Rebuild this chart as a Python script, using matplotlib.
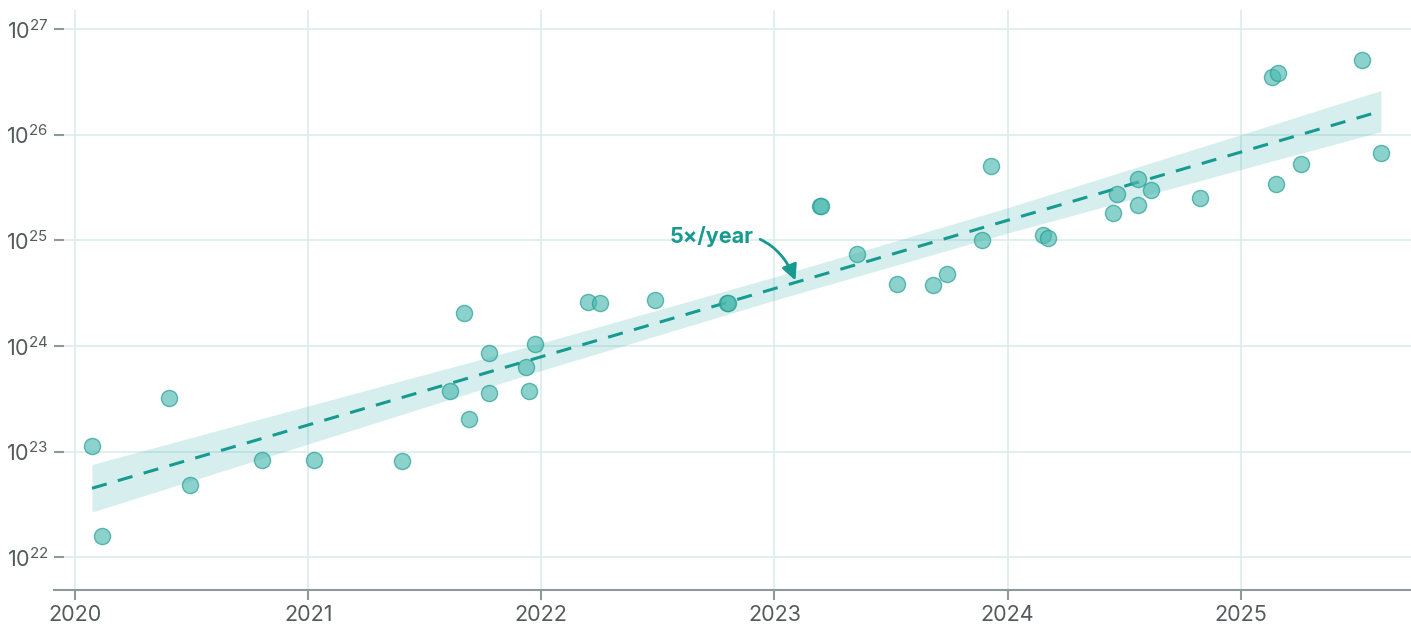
import matplotlib
matplotlib.use('Agg')
import matplotlib.pyplot as plt
import numpy as np

# годы и log10(compute) точек
years = [2020.073, 2020.116, 2020.403, 2020.494, 2020.803, 2021.026, 2021.403,
         2021.609, 2021.670, 2021.691, 2021.777, 2021.777, 2021.936, 2021.948,
         2021.974, 2022.202, 2022.253, 2022.489, 2022.798, 2022.800, 2023.197,
         2023.199, 2023.352, 2023.524, 2023.678, 2023.738, 2023.888, 2023.927,
         2024.150, 2024.172, 2024.451, 2024.468, 2024.558, 2024.558, 2024.614,
         2024.824, 2025.133, 2025.159, 2025.150, 2025.258, 2025.519, 2025.601]
log_flop = [23.05, 22.20, 23.51, 22.68, 22.92, 22.92, 22.91,
            23.57, 24.31, 23.31, 23.93, 23.55, 23.80, 23.57,
            24.02, 24.415, 24.405, 24.434, 24.405, 24.41, 25.324,
            25.326, 24.87, 24.585, 24.576, 24.68, 25.00, 25.70,
            25.05, 25.02, 25.26, 25.44, 25.58, 25.33, 25.475,
            25.40, 26.545, 26.583, 25.532, 25.722, 26.706, 25.826]

# тренд и полоса неопределённости
trend_years = [2020.073, 2021.0, 2022.0, 2023.0, 2024.0, 2025.0, 2025.601]
trend_log = [22.653, 23.252, 23.898, 24.543, 25.189, 25.835, 26.223]
band_half = [0.225, 0.18, 0.13, 0.11, 0.12, 0.165, 0.195]

yticks = [22, 23, 24, 25, 26, 27]
xticks = [2020, 2021, 2022, 2023, 2024, 2025]

teal = '#179a90'
plt.rcParams['font.family'] = ['Inter', 'DejaVu Sans']
plt.rcParams['mathtext.fontset'] = 'custom'
plt.rcParams['mathtext.rm'] = 'Inter'
plt.rcParams['mathtext.it'] = 'Inter'

fig = plt.figure(figsize=(14.11, 6.25), dpi=100)
ax = fig.add_axes([54 / 1411, 35 / 625, 1 - 54 / 1411, 580 / 625])

ty = np.array(trend_years)
tl = np.array(trend_log)
hw = np.array(band_half)
ax.fill_between(ty, 10 ** (tl - hw), 10 ** (tl + hw), color='#20a3a3',
                alpha=0.18, lw=0, zorder=2)
ax.plot(ty, 10 ** tl, color=teal, lw=2.2, ls=(0, (5, 3.8)), zorder=3)
ax.scatter(years, 10 ** np.array(log_flop), s=135, color='#4cbab0', alpha=0.65,
           edgecolor='#1f9a90', linewidth=1.0, zorder=4)

ax.annotate('5×/year', xy=(2023.09, 10 ** 24.62), xytext=(2022.91, 10 ** 25.04),
            ha='right', va='center', fontsize=15.5, fontweight='bold', color=teal,
            arrowprops=dict(arrowstyle='-|>,head_length=0.6,head_width=0.3',
                            color=teal, lw=2,
                            connectionstyle='arc3,rad=-0.42',
                            shrinkA=3, shrinkB=0),
            zorder=5)

ax.set_yscale('log')
ax.set_xlim(2019.91, 2025.73)
ax.set_ylim(10 ** 21.69, 10 ** 27.18)
ax.set_yticks([10.0 ** k for k in yticks])
ax.set_yticklabels([r'$\mathregular{10^{%d}}$' % k for k in yticks])
ax.yaxis.set_minor_locator(matplotlib.ticker.NullLocator())
ax.set_xticks(xticks)
ax.set_xticklabels([str(x) for x in xticks])

ax.grid(True, color='#dcecec', lw=1.2, zorder=0)
ax.set_axisbelow(True)
for s in ['left', 'top', 'right']:
    ax.spines[s].set_visible(False)
ax.spines['bottom'].set_color('#8c9a9a')
ax.spines['bottom'].set_linewidth(1.5)
ax.tick_params(axis='y', direction='in', length=7, width=1.5, color='#8c9a9a',
               labelsize=15.5, labelcolor='#555b5b', pad=4)
ax.tick_params(axis='x', length=7, width=1.5, color='#8c9a9a',
               labelsize=15.5, labelcolor='#555b5b', pad=4)

plt.savefig('out.png', dpi=100)
